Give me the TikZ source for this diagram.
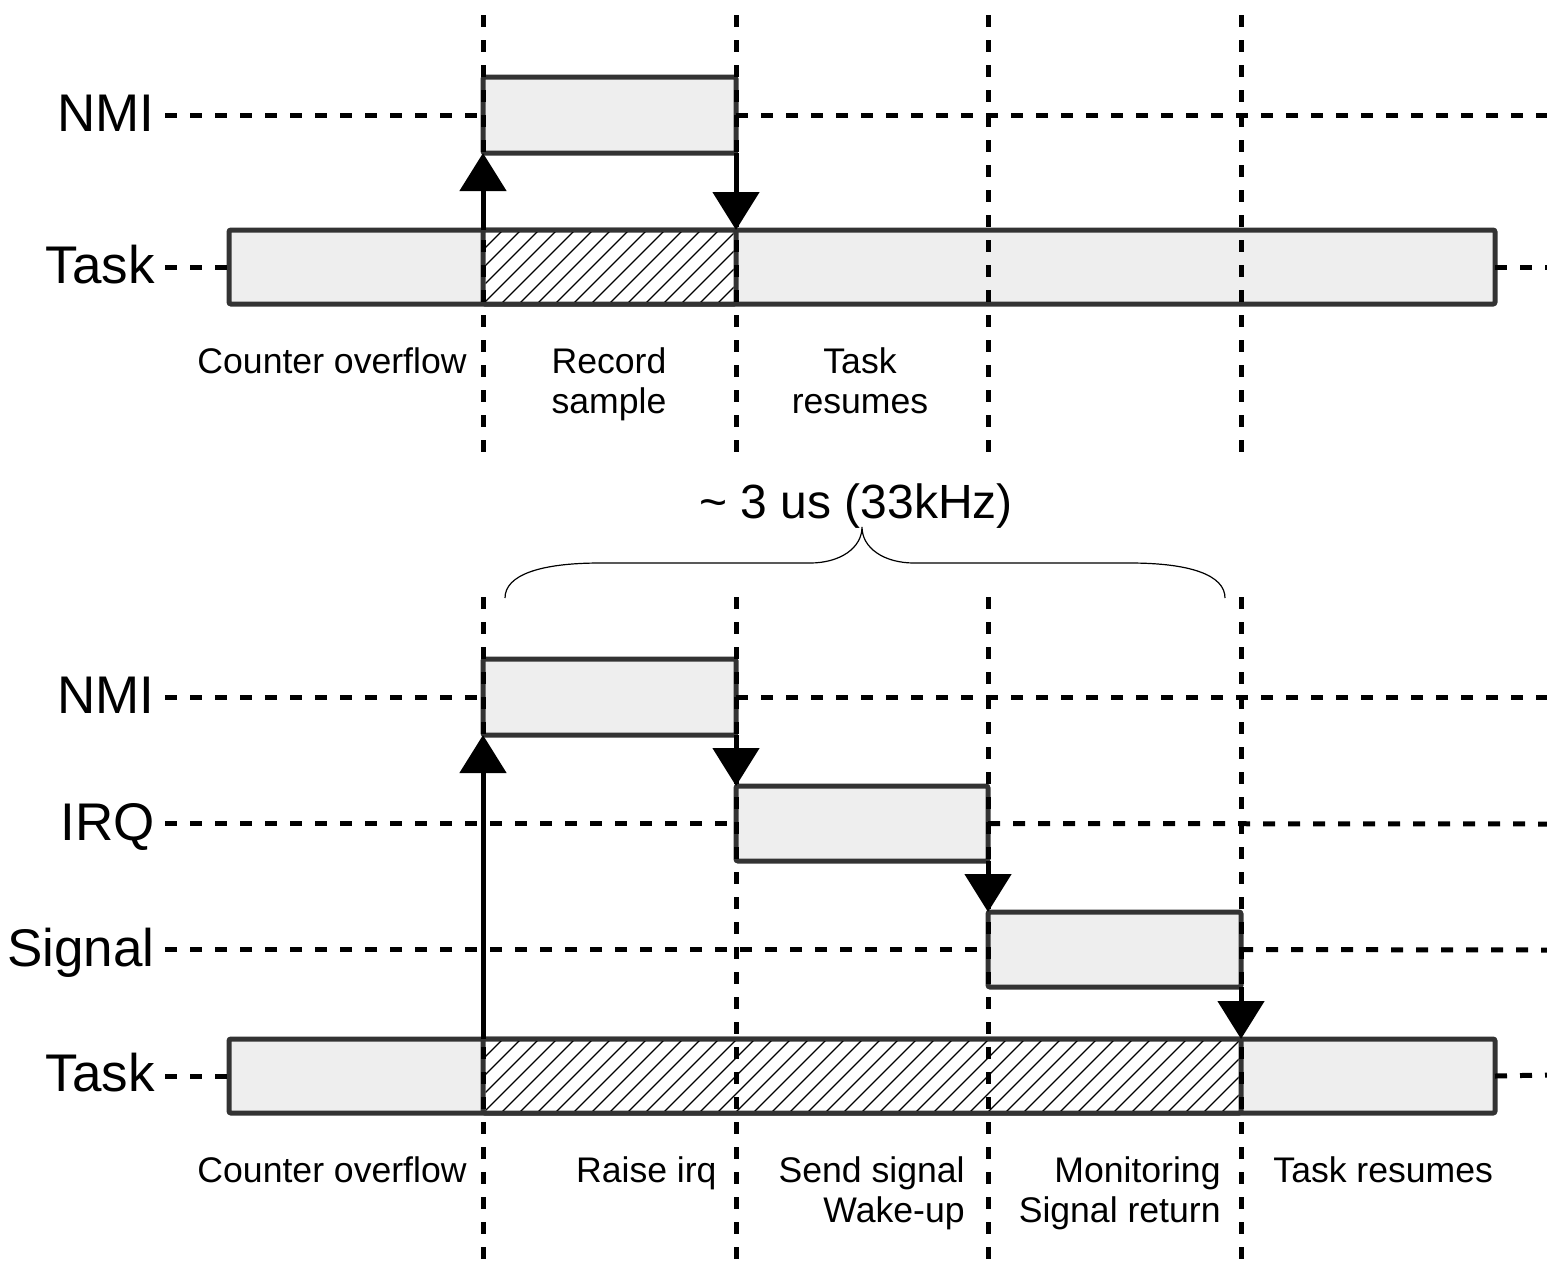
\documentclass[tikz,border=0pt]{standalone}
\usepackage{fontspec}
\setmainfont{Liberation Sans}
\usetikzlibrary{arrows.meta,fit}

\definecolor{barline}{HTML}{333333}
\definecolor{barfill}{HTML}{EEEEEE}

\begin{document}
\begin{tikzpicture}[x=0.5pt,y=-0.5pt,
  bar/.style={draw=barline, line width=2.5pt, fill=barfill, rounded corners=1pt, inner sep=0pt, outer sep=0pt},
  busy/.style={bar, fill=white},
  hatch/.style={line width=0.6pt},
  grid/.style={line width=2.5pt, dash pattern=on 6pt off 6.5pt},
  lane/.style={font=\fontsize{26.5}{30}\selectfont, anchor=base east, inner sep=0pt},
  note/.style={font=\fontsize{17.8}{20}\selectfont, inner sep=0pt},
  flow/.style={line width=2.5pt, -{Triangle[width=23pt,length=19pt]}}
]
\useasboundingbox (0,0) rectangle (1547,1271);

% diagonal hatching of a busy interval (lines every 18 units along the bottom edge)
\newcommand{\hatchbox}[2]{%
  \begin{scope}
    \clip ([shift={(1.25pt,1.25pt)}]#1.south west) rectangle ([shift={(-1.25pt,-1.25pt)}]#1.north east);
    \foreach \k in {-5,...,#2}
      \draw[hatch] ([xshift=9*\k pt]#1.south west) -- ++(80,-80);
  \end{scope}}

% ---------- upper timeline: sample recorded inside the NMI ----------
\node[bar, fit={(483,77) (736,153)}] (nmiA) {};
\node[bar, fit={(229,230) (1495,304)}] (taskA) {};
\node[busy, fit={(483,230) (736,304)}] (busyA) {};
\hatchbox{busyA}{15}

\node[lane] (lNmiA) at (155,131) {NMI};
\node[lane] (lTaskA) at (155,283) {Task};

\coordinate (eNmiA) at (1547,115);
\coordinate (eTaskA) at (1547,267);
\draw[grid] ([xshift=5pt]lNmiA.east |- nmiA.west) -- (nmiA.west);
\draw[grid] (nmiA.east) -- (eNmiA);
\draw[grid] ([xshift=5pt]lTaskA.east |- taskA.west) -- (taskA.west);
\draw[grid] (taskA.east) -- (eTaskA);

\foreach \x/\n in {483/a,736/b,988/c,1241/d}{
  \coordinate (top\n) at (\x,15);
  \coordinate (bot\n) at (\x,455);
  \draw[grid] (top\n) -- (bot\n);
}

\draw[flow] (taskA.north -| nmiA.west) -- (nmiA.south west);
\draw[flow] (nmiA.south east) -- (taskA.north -| nmiA.east);

\node[note, anchor=base east] (nCntA) at (467,373) {Counter overflow};
\node[note, anchor=north, align=center] (nRec) at (609,347) {Record\\sample};
\node[note, anchor=north, align=center] (nRes) at (860,347) {Task\\resumes};

% ---------- interval brace ----------
\node[font=\fontsize{24}{28}\selectfont, anchor=base, inner sep=0pt] (span) at (856,518) {\textasciitilde{} 3 us (33kHz)};
\coordinate (braceL) at (505,598);
\coordinate (braceR) at (1225,598);
\coordinate (braceTip) at (862,527);
\draw[line width=0.6pt] (braceL) .. controls (505,575) and (540,563) .. (600,563)
  -- (810,563) .. controls (840,563) and (862,548) .. (braceTip)
  .. controls (862,548) and (884,563) .. (914,563)
  -- (1130,563) .. controls (1190,563) and (1225,575) .. (braceR);

% ---------- lower timeline: sample handled through IRQ and signal ----------
\node[bar, fit={(483,659) (736,735)}] (nmiB) {};
\node[bar, fit={(736,786) (988,861)}] (irqB) {};
\node[bar, fit={(988,912) (1241,987)}] (sigB) {};
\node[bar, fit={(229,1039) (1495,1113)}] (taskB) {};
\node[busy, fit={(483,1039) (1241,1113)}] (busyB) {};
\hatchbox{busyB}{43}

\node[lane] (lNmiB) at (155,713) {NMI};
\node[lane] (lIrqB) at (155,840) {IRQ};
\node[lane] (lSigB) at (155,966) {Signal};
\node[lane] (lTaskB) at (155,1091) {Task};

\coordinate (eNmiB) at (1547,697);
\coordinate (eIrqB) at (1547,824);
\coordinate (eSigB) at (1547,950);
\coordinate (eTaskB) at (1547,1075);
\draw[grid] ([xshift=5pt]lNmiB.east |- nmiB.west) -- (nmiB.west);
\draw[grid] (nmiB.east) -- (eNmiB);
\draw[grid] ([xshift=5pt]lIrqB.east |- irqB.west) -- (irqB.west);
\draw[grid] (irqB.east) -- (eIrqB);
\draw[grid] ([xshift=5pt]lSigB.east |- sigB.west) -- (sigB.west);
\draw[grid] (sigB.east) -- (eSigB);
\draw[grid] ([xshift=5pt]lTaskB.east |- taskB.west) -- (taskB.west);
\draw[grid] (taskB.east) -- (eTaskB);

\foreach \x/\n in {483/a,736/b,988/c,1241/d}{
  \coordinate (upB\n) at (\x,597);
  \coordinate (dnB\n) at (\x,1271);
  \draw[grid] (upB\n) -- (dnB\n);
}

\draw[flow] (taskB.north -| nmiB.west) -- (nmiB.south west);
\draw[flow] (nmiB.south east) -- (irqB.north west);
\draw[flow] (irqB.south east) -- (sigB.north west);
\draw[flow] (sigB.south east) -- (taskB.north -| sigB.east);

\node[note, anchor=base east] (nCntB) at (467,1182) {Counter overflow};
\node[note, anchor=base east] (nIrq) at (717,1182) {Raise irq};
\node[note, anchor=north east, align=right] (nSend) at (965,1156) {Send signal\\Wake-up};
\node[note, anchor=north east, align=right] (nMon) at (1221,1156) {Monitoring\\Signal return};
\node[note, anchor=base west] (nTaskB) at (1273,1182) {Task resumes};
\end{tikzpicture}
\end{document}
